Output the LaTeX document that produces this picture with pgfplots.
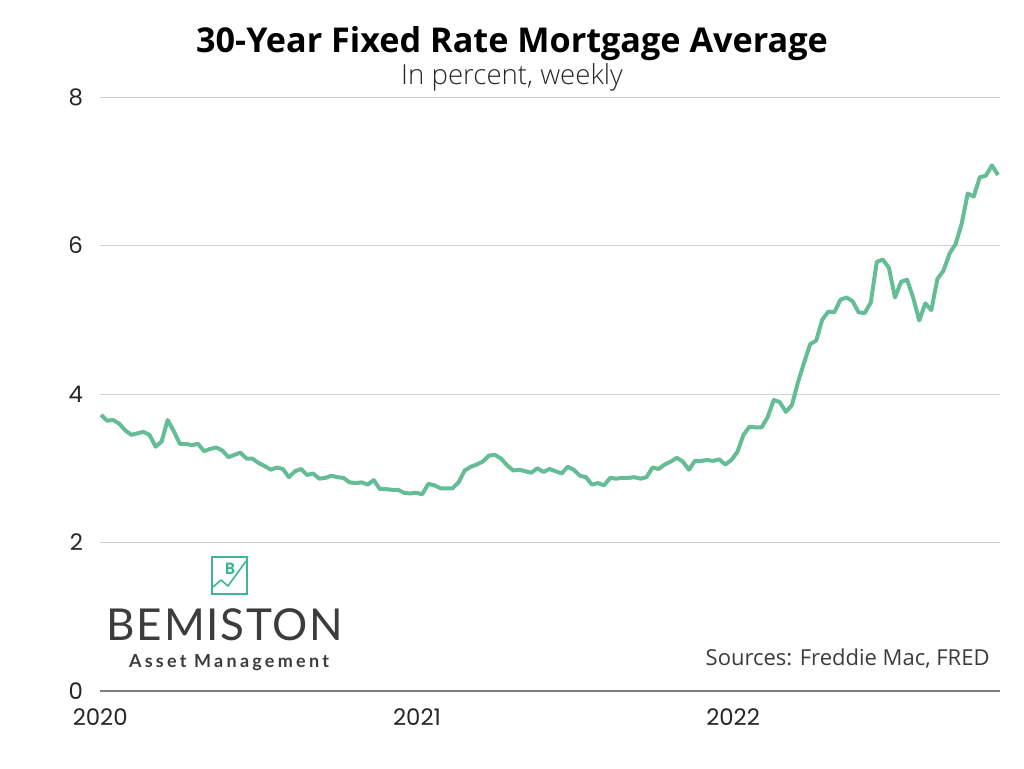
\documentclass[border=0pt]{standalone}
\usepackage{pgfplots}
\pgfplotsset{compat=1.18}
\usepackage{pgfplotstable}
\usepackage{fontspec}
\setmainfont{Open Sans}
\newfontfamily\sublight{Open Sans Light}
\newfontfamily\tickfont{Poppins}
\newfontfamily\logofont[LetterSpace=4]{Lato}
\newfontfamily\logosub[LetterSpace=18]{Lato}

\definecolor{rateline}{RGB}{101,189,151}
\definecolor{logogreen}{RGB}{60,182,150}
\definecolor{textgray}{RGB}{60,60,60}

% Freddie Mac PMMS, 30-year fixed, weekly, 2 Jan 2020 - 3 Nov 2022
\pgfplotstableread{
rate
3.72
3.64
3.65
3.60
3.51
3.45
3.47
3.49
3.45
3.29
3.36
3.65
3.50
3.33
3.33
3.31
3.33
3.23
3.26
3.28
3.24
3.15
3.18
3.21
3.13
3.13
3.07
3.03
2.98
3.01
2.99
2.88
2.96
2.99
2.91
2.93
2.86
2.87
2.90
2.88
2.87
2.81
2.80
2.81
2.78
2.84
2.72
2.72
2.71
2.71
2.67
2.66
2.67
2.65
2.79
2.77
2.73
2.73
2.73
2.81
2.97
3.02
3.05
3.09
3.17
3.18
3.13
3.04
2.97
2.98
2.96
2.94
3.00
2.95
2.99
2.96
2.93
3.02
2.98
2.90
2.88
2.78
2.80
2.77
2.87
2.86
2.87
2.87
2.88
2.86
2.88
3.01
2.99
3.05
3.09
3.14
3.09
2.98
3.10
3.10
3.11
3.10
3.12
3.05
3.11
3.22
3.45
3.56
3.55
3.55
3.69
3.92
3.89
3.76
3.85
4.16
4.42
4.67
4.72
5.00
5.11
5.10
5.27
5.30
5.25
5.10
5.09
5.23
5.78
5.81
5.70
5.30
5.51
5.54
5.30
4.99
5.22
5.13
5.55
5.66
5.89
6.02
6.29
6.70
6.66
6.92
6.94
7.08
6.95
}\ratedata

\begin{document}
\begin{tikzpicture}
\path[use as bounding box] (0,0) rectangle (512pt,384pt);

\begin{axis}[
    at={(50pt,38.5pt)}, anchor=south west,
    scale only axis,
    width=450pt, height=297pt,
    xmin=-0.17, xmax=148.33,
    ymin=0, ymax=8,
    xtick={-0.14,52.14,104.29},
    xticklabels={2020,2021,2022},
    ytick={0,2,4,6,8},
    major tick length=0pt,
    axis x line*=bottom,
    axis y line*=left,
    x axis line style={draw=black!50, line width=0.6pt},
    y axis line style={draw=none},
    ymajorgrids,
    grid style={draw=black!18, line width=0.5pt},
    ticklabel style={font=\tickfont\fontsize{11.4}{13}\selectfont, text=black!85},
    /pgf/number format/assume math mode=true,
    xticklabel style={anchor=base, yshift=-17pt},
    yticklabel style={anchor=east, xshift=-5pt},
    clip=false,
]
\addplot[rateline, line width=2pt, line join=round] table[x expr=\coordindex, y=rate] {\ratedata};
\end{axis}

% titles
\node[anchor=base, inner sep=0pt, font=\bfseries\fontsize{17.1}{19}\selectfont] at (256pt,357.5pt) {30-Year Fixed Rate Mortgage Average};
\node[anchor=base, inner sep=0pt, font=\sublight\fontsize{13.8}{15}\selectfont, text=black!85] at (256pt,341.5pt) {In percent, weekly};

% source note
\node[anchor=base east, inner sep=0pt, font=\fontsize{11}{13}\selectfont, text=textgray] at (495pt,51.5pt) {Sources: Freddie Mac, FRED};

% logo
\draw[logogreen, line width=0.8pt] (106pt,87pt) rectangle (123.5pt,105.5pt);
\draw[logogreen, line width=0.8pt, line join=round] (106.5pt,90.5pt) -- (110.5pt,94pt) -- (114pt,91pt) -- (123pt,103.5pt);
\node[font=\bfseries\fontsize{8}{9}\selectfont, text=logogreen] at (115pt,99.5pt) {B};
\node[anchor=base, font=\logofont\fontsize{22}{24}\selectfont, text=textgray] at (112.5pt,64pt) {BEMISTON};
\node[anchor=base, font=\logosub\bfseries\fontsize{9}{10}\selectfont, text=textgray] at (114.5pt,50.5pt) {Asset Management};
\end{tikzpicture}
\end{document}
